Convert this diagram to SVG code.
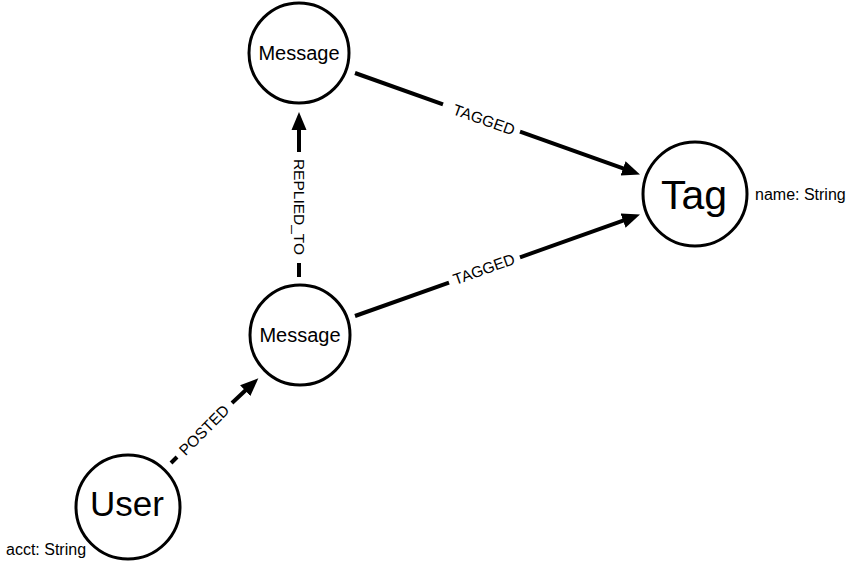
<svg xmlns="http://www.w3.org/2000/svg" width="850" height="566" viewBox="0 0 850 566">
<style>
  .node circle { fill: #ffffff; stroke: #000000; stroke-width: 3; }
  .node text { font-family: "Liberation Sans", Arial, sans-serif; fill: #000; text-anchor: middle; }
  .prop { font-family: "Liberation Sans", Arial, sans-serif; font-size: 16px; fill: #000; }
  .edge { stroke: #000; stroke-width: 4; fill: none; }
  .elabel { font-family: "Liberation Sans", Arial, sans-serif; font-size: 15.5px; fill: #000; text-anchor: middle; dominant-baseline: central; }
</style>
<defs>
  <marker id="arrow" markerUnits="userSpaceOnUse" markerWidth="20" markerHeight="18" refX="6" refY="8" orient="auto">
    <path d="M0,0.5 L18,8 L0,15.5 Z" fill="#000"/>
  </marker>
</defs>
<rect width="850" height="566" fill="#ffffff"/>
<g id="connectors">
  <g id="edge-tagged-1">
    <line class="edge" x1="355" y1="73" x2="443" y2="104.3"/>
    <line class="edge" x1="520" y1="131.7" x2="628.7" y2="170.4" marker-end="url(#arrow)"/>
    <text class="elabel" transform="translate(484,119.5) rotate(19.6)">TAGGED</text>
  </g>
  <g id="edge-tagged-2">
    <line class="edge" x1="355" y1="316" x2="449" y2="282.6"/>
    <line class="edge" x1="520" y1="257.3" x2="628.7" y2="218.6" marker-end="url(#arrow)"/>
    <text class="elabel" transform="translate(484,269) rotate(-19.6)">TAGGED</text>
  </g>
  <g id="edge-replied">
    <line class="edge" x1="299" y1="277" x2="299" y2="263"/>
    <line class="edge" x1="299" y1="152" x2="299" y2="124" marker-end="url(#arrow)"/>
    <text class="elabel" transform="translate(299,207) rotate(90)">REPLIED_TO</text>
  </g>
  <g id="edge-posted">
    <line class="edge" x1="171" y1="463" x2="177" y2="457"/>
    <line class="edge" x1="232" y1="403" x2="249.6" y2="386.5" marker-end="url(#arrow)"/>
    <text class="elabel" transform="translate(204,430) rotate(-45.3)">POSTED</text>
  </g>
</g>
<g id="node-message-top" class="node">
  <circle cx="299" cy="53" r="50"/>
  <text x="299" y="60" font-size="20">Message</text>
</g>
<g id="node-message-bottom" class="node">
  <circle cx="300" cy="335" r="50"/>
  <text x="300" y="342" font-size="20">Message</text>
</g>
<g id="node-tag" class="node">
  <circle cx="695" cy="194" r="52"/>
  <text x="694" y="209" font-size="41">Tag</text>
  <text class="prop" x="755" y="200" style="text-anchor:start">name: String</text>
</g>
<g id="node-user" class="node">
  <circle cx="128" cy="507" r="52"/>
  <text x="127" y="516" font-size="35">User</text>
  <text class="prop" x="6" y="555" style="text-anchor:start">acct: String</text>
</g>
</svg>
